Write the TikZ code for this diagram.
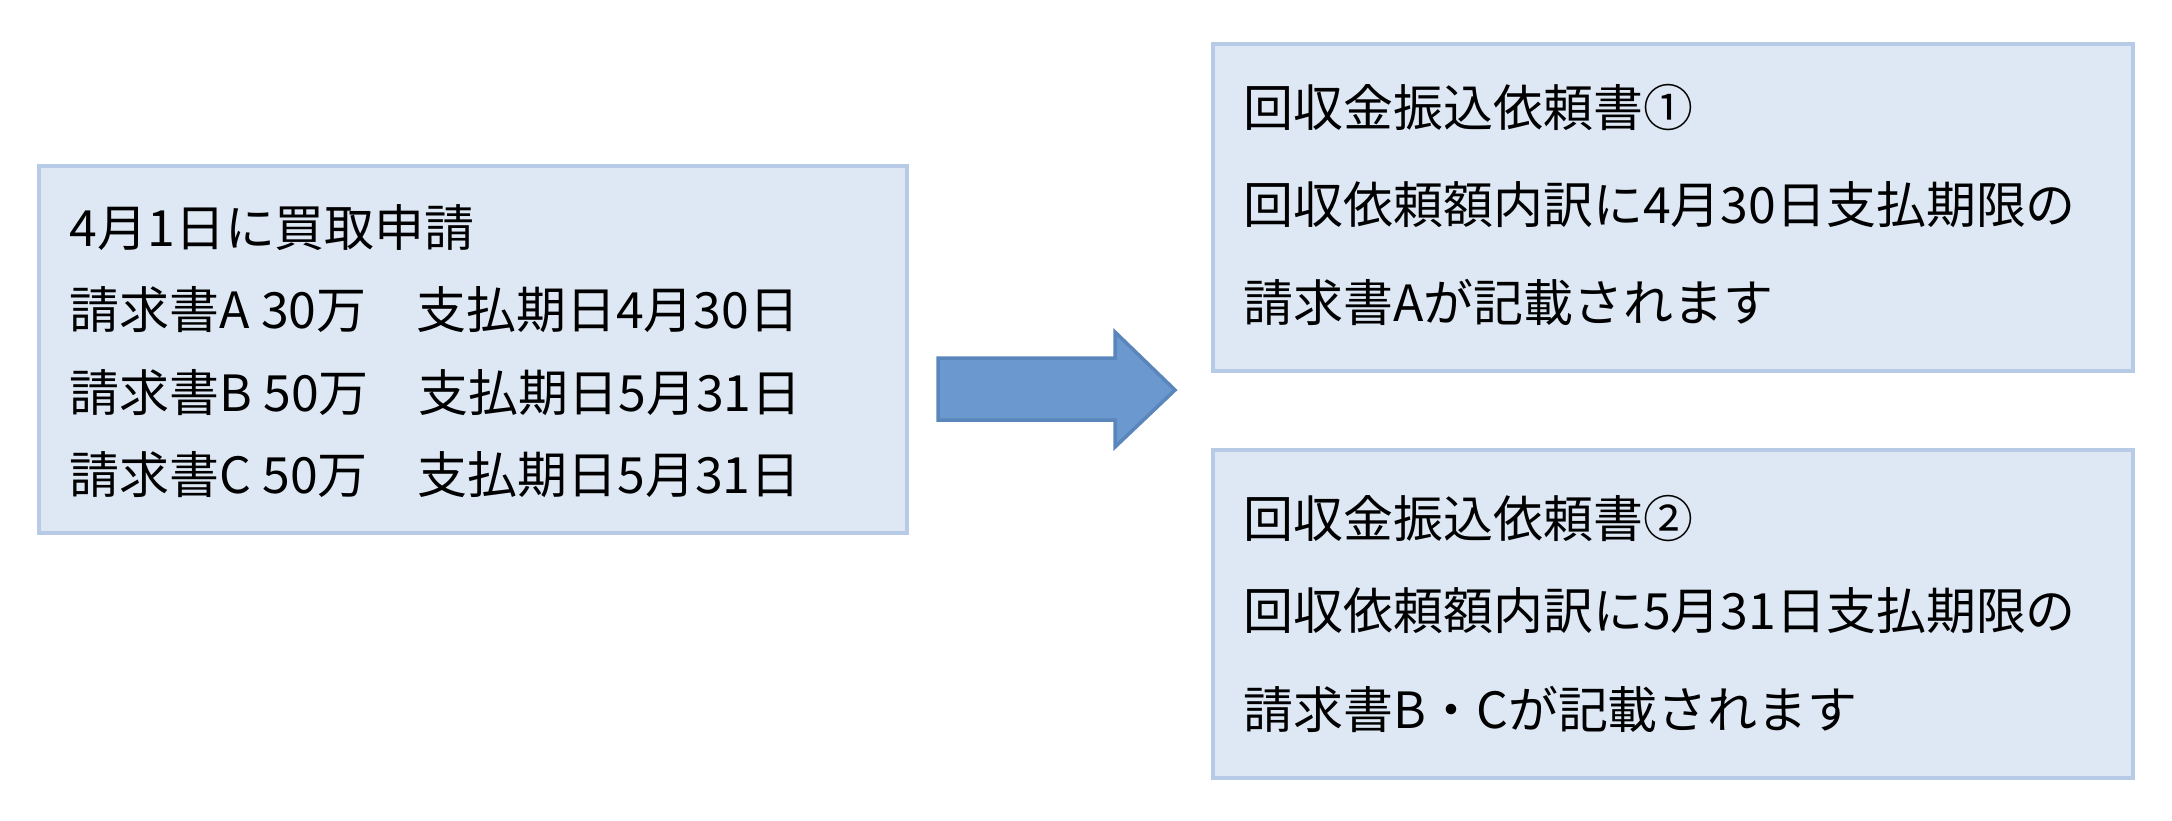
\documentclass[tikz,border=0pt]{standalone}
\usepackage{fontspec}
\setmainfont{Noto Sans CJK JP}
\definecolor{boxfill}{HTML}{DEE8F4}
\definecolor{boxline}{HTML}{B7CBE6}
\definecolor{arrowfill}{HTML}{6A98CF}
\definecolor{arrowline}{HTML}{5B86BB}
\tikzset{
  infobox/.style={draw=boxline, fill=boxfill, line width=1.2pt},
  txt/.style={anchor=west, inner sep=0pt, font=\fontsize{14.2}{16}\selectfont}
}
\begin{document}
\begin{tikzpicture}[x=0.01cm,y=-0.01cm]
    \useasboundingbox (0,0) rectangle (2172,820);
    % boxes
    \draw[infobox] (39,166) coordinate (req) rectangle (907,533);
    \draw[infobox] (1213,44) coordinate (first) rectangle (2133,371);
    \draw[infobox] (1213,450) coordinate (second) rectangle (2133,778);
    % left text
    \node[txt] (r1) at (69,228) {4月1日に買取申請};
    \node[txt] (r2) at (69,310) {請求書A 30万　支払期日4月30日};
    \node[txt] (r3) at (69,393) {請求書B 50万　支払期日5月31日};
    \node[txt] (r4) at (69,475) {請求書C 50万　支払期日5月31日};
    % right text
    \node[txt] (f1) at (1243,108) {回収金振込依頼書①};
    \node[txt] (f2) at (1243,205) {回収依頼額内訳に4月30日支払期限の};
    \node[txt] (f3) at (1243,302) {請求書Aが記載されます};
    \node[txt] (s1) at (1243,519) {回収金振込依頼書②};
    \node[txt] (s2) at (1243,611) {回収依頼額内訳に5月31日支払期限の};
    \node[txt] (s3) at (1243,709) {請求書B・Cが記載されます};
    % arrow
    \draw[fill=arrowfill, draw=arrowline, line width=1pt]
        (938,358) -- (1115,358) -- (1115,332) -- (1175,390) -- (1115,447)
        -- (1115,420) -- (938,420) -- cycle;
\end{tikzpicture}
\end{document}
